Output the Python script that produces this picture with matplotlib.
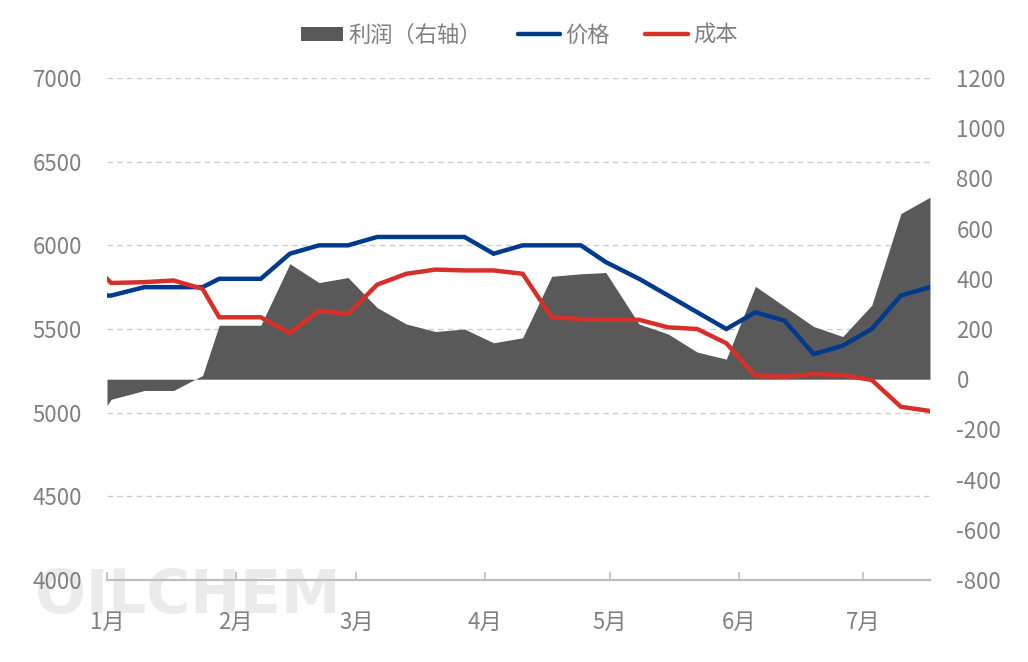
import matplotlib
matplotlib.use("Agg")
import matplotlib.pyplot as plt
import matplotlib.dates as mdates
from matplotlib.lines import Line2D
from matplotlib.patches import Patch
from matplotlib.ticker import FuncFormatter, MultipleLocator
import numpy as np

plt.rcParams['font.family'] = ['Noto Sans CJK SC', 'DejaVu Sans']
plt.rcParams['axes.unicode_minus'] = False

# weekly observations (2024)
dates = np.array([
    "2024-01-01", "2024-01-02", "2024-01-10", "2024-01-17", "2024-01-24",
    "2024-01-28", "2024-02-07", "2024-02-14", "2024-02-21", "2024-02-28",
    "2024-03-06", "2024-03-13", "2024-03-20", "2024-03-27", "2024-04-03",
    "2024-04-10", "2024-04-17", "2024-04-24", "2024-04-30", "2024-05-08",
    "2024-05-15", "2024-05-22", "2024-05-29", "2024-06-05", "2024-06-12",
    "2024-06-19", "2024-06-26", "2024-07-03", "2024-07-10", "2024-07-17",
], dtype="datetime64[D]")

price = [5700, 5700, 5750, 5750, 5750, 5800, 5800, 5950, 6000, 6000,
         6050, 6050, 6050, 6050, 5950, 6000, 6000, 6000, 5900, 5800,
         5700, 5600, 5500, 5600, 5550, 5350, 5400, 5500, 5700, 5750]

cost = [5800, 5775, 5780, 5790, 5740, 5570, 5570, 5475, 5610, 5590,
        5765, 5830, 5855, 5850, 5850, 5830, 5570, 5560, 5555, 5555,
        5510, 5500, 5415, 5220, 5215, 5230, 5225, 5195, 5035, 5010]

profit = [-105, -80, -45, -45, 15, 215, 215, 460, 385, 405,
          285, 220, 190, 200, 145, 165, 410, 420, 425, 220,
          180, 108, 80, 370, 290, 210, 170, 295, 660, 725]

month_labels = ["1月", "2月", "3月", "4月", "5月", "6月", "7月"]
legend_labels = ["利润（右轴）", "价格", "成本"]

C_AREA = "#595959"
C_PRICE = "#003A8C"
C_COST = "#D7302A"
C_TEXT = "#808080"
C_AXIS = "#BFBFBF"

fig = plt.figure(figsize=(10.28, 6.62), dpi=100)
left, right, bottom, top = 107 / 1028, 930 / 1028, 82 / 662, 584 / 662
ax = fig.add_axes([left, bottom, right - left, top - bottom])
ax2 = ax.twinx()   # profit (right axis)
ax3 = ax.twinx()   # lines on left scale, drawn on top of the area

for a in (ax, ax2, ax3):
    a.patch.set_visible(False)
    for s in a.spines.values():
        s.set_visible(False)

# left axis: price / cost scale + grid
ax.set_ylim(4000, 7000)
ax.yaxis.set_major_locator(MultipleLocator(500))
ax.grid(axis="y", color="#CCCCCC", linestyle=(0, (4, 3)), linewidth=1.0)
ax.tick_params(axis="y", length=0, pad=18, labelsize=16, labelcolor=C_TEXT)
ax.spines["bottom"].set_visible(True)
ax.spines["bottom"].set_color(C_AXIS)
ax.spines["bottom"].set_linewidth(1.6)

ax.set_xlim(np.datetime64("2024-01-01"), np.datetime64("2024-07-17"))
ax.xaxis.set_major_locator(mdates.MonthLocator())
ax.xaxis.set_major_formatter(
    FuncFormatter(lambda v, p: month_labels[mdates.num2date(v).month - 1]))
ax.tick_params(axis="x", direction="in", length=6, width=1.2, color=C_AXIS,
               pad=22, labelsize=16, labelcolor=C_TEXT)

# right axis: profit area
ax2.fill_between(dates, 0, profit, color=C_AREA, linewidth=0)
ax2.set_ylim(-800, 1200)
ax2.yaxis.set_major_locator(MultipleLocator(200))
ax2.tick_params(axis="y", length=0, pad=19, labelsize=16, labelcolor=C_TEXT)

# lines
ax3.set_ylim(4000, 7000)
ax3.set_yticks([])
ax3.plot(dates, price, color=C_PRICE, linewidth=3.2, solid_joinstyle="miter")
ax3.plot(dates, cost, color=C_COST, linewidth=3.2, solid_joinstyle="miter")

handles = [Patch(facecolor=C_AREA, edgecolor="none"),
           Line2D([], [], color=C_PRICE, linewidth=3.2, solid_capstyle="round"),
           Line2D([], [], color=C_COST, linewidth=3.2, solid_capstyle="round")]
fig.legend(handles, legend_labels, loc="center", bbox_to_anchor=(0.505, 0.947),
           ncol=3, frameon=False, fontsize=16, labelcolor=C_TEXT,
           handlelength=1.9, handleheight=0.6, handletextpad=0.25,
           columnspacing=1.6)

# watermark
fig.text(35 / 1028, 1 - 613 / 662, "OILCHEM", fontsize=43, fontweight="bold",
         family="DejaVu Sans", color="#EBEBEB", zorder=-1)

fig.savefig("out.png", dpi=100)
